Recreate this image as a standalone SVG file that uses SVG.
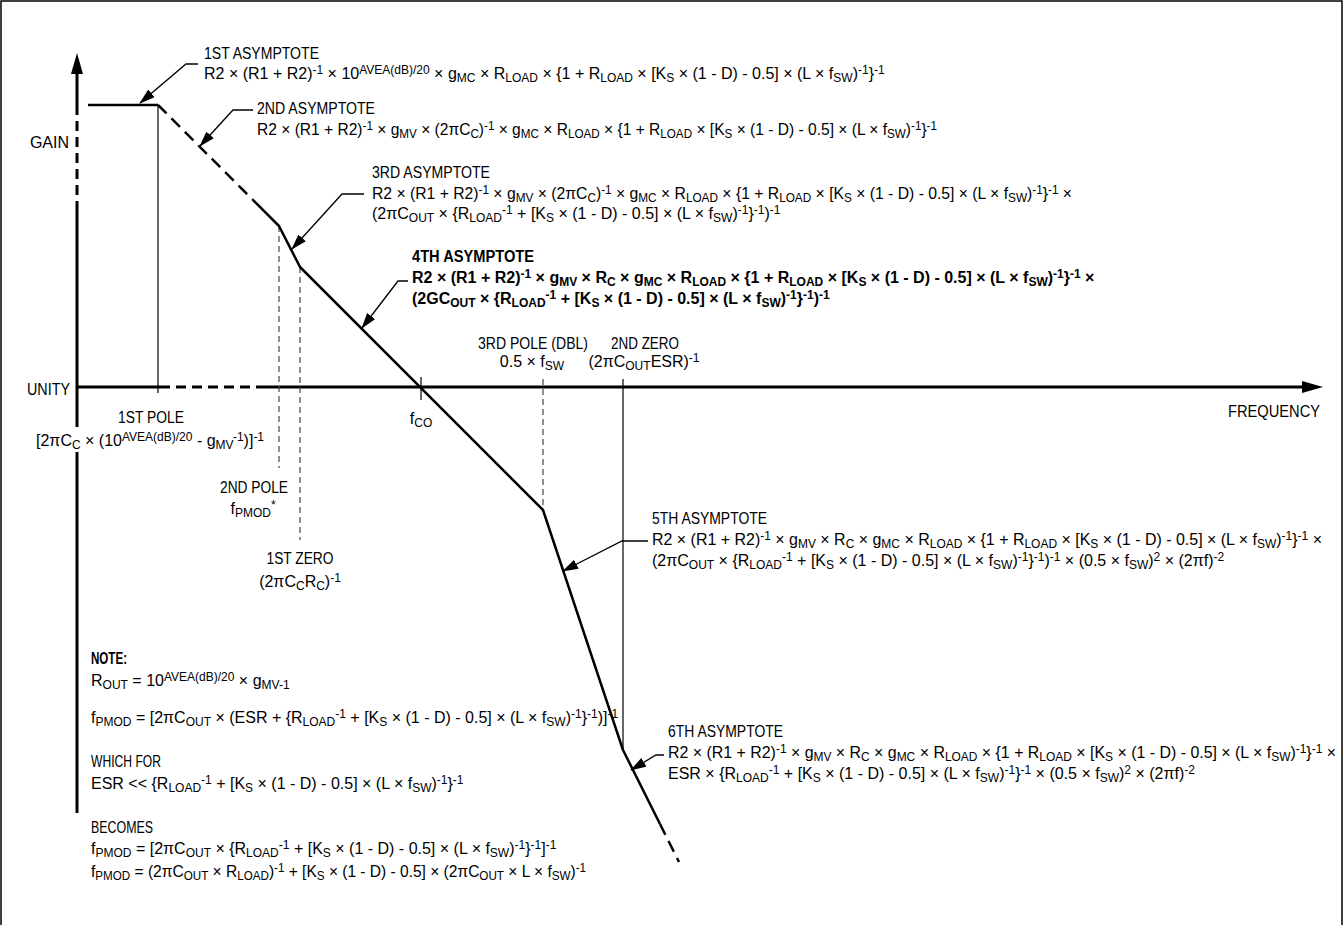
<svg xmlns="http://www.w3.org/2000/svg" width="1344" height="925" viewBox="0 0 1344 925">
<style>
text{font-family:"Liberation Sans Narrow","Liberation Sans",Arial,sans-serif;font-size:16px;fill:#000}
.b{font-weight:bold}
.m{text-anchor:middle}
.e{text-anchor:end}
.s{font-size:12px;baseline-shift:-3px}
.p{font-size:12px;baseline-shift:5px}
.ax{stroke:#000;stroke-width:3;fill:none}
.axd{stroke:#000;stroke-width:3;fill:none;stroke-dasharray:10 6}
.cv{stroke:#000;stroke-width:2.5;fill:none;stroke-linejoin:round}
.cvd{stroke:#000;stroke-width:2.5;fill:none;stroke-dasharray:12 7}
.mk{stroke:#000;stroke-width:1.2;fill:none}
.mkd{stroke:#444;stroke-width:1.2;fill:none;stroke-dasharray:6 4}
.ld{stroke:#000;stroke-width:1.3;fill:none;marker-end:url(#ah)}
</style>
<defs>
<marker id="ah" viewBox="0 0 16 10" refX="15" refY="5" markerWidth="16" markerHeight="10" markerUnits="userSpaceOnUse" orient="auto">
<path d="M0,0 L16,5 L0,10 z" fill="#000"/>
</marker>
</defs>
<rect width="1344" height="925" fill="#fff"/>
<path d="M1,925 V1 H1342 V925" fill="none" stroke="#000" stroke-width="1.5"/>

<g id="axes">
<path class="ax" d="M77,70 V105"/>
<path class="axd" d="M77,105 V210"/>
<path class="ax" d="M77,210 V427 M77,452 V813"/>
<polygon points="77,53 71,74 83,74" fill="#000"/>
<path class="ax" d="M77,387 H160"/>
<path class="axd" d="M160,387 H260"/>
<path class="ax" d="M260,387 H1305"/>
<polygon points="1323,387 1302,381 1302,393" fill="#000"/>
<text x="69" y="148" class="e">GAIN</text>
<text x="70" y="395" class="e" textLength="43" lengthAdjust="spacingAndGlyphs">UNITY</text>
<text x="1320" y="417" class="e" textLength="92" lengthAdjust="spacingAndGlyphs">FREQUENCY</text>
</g>

<g id="markers">
<path class="mk" d="M158,105 V393"/>
<path class="mkd" d="M279,226 V468"/>
<path class="mkd" d="M300,267 V540"/>
<path class="mk" d="M421,377 V400"/>
<path class="mkd" d="M543,379 V510"/>
<path class="mk" d="M623,379 V750"/>
</g>

<g id="curve">
<path class="cv" d="M88,105 H158"/>
<path class="cvd" d="M158,105 L253,200"/>
<path class="cv" d="M253,200 L279,226 L300,267 L543,510 L623,750 L660,824"/>
<path class="cvd" d="M660,824 L679,862"/>
</g>

<g id="connectors">
<path class="ld" d="M198,64 H186 L140,103"/>
<path class="ld" d="M253,110 H233 L200,146"/>
<path class="ld" d="M364,194 H342 L292,249"/>
<path class="ld" d="M408,281 H398 L362,328"/>
<path class="ld" d="M648,541 H622 L563,571"/>
<path class="ld" d="M664,755 H656 L631,770"/>
</g>

<g id="asym1">
<text x="204" y="59" textLength="115" lengthAdjust="spacingAndGlyphs">1ST ASYMPTOTE</text>
<text x="204" y="79">R2 × (R1 + R2)<tspan class="p">-1</tspan> × 10<tspan class="p">AVEA(dB)/20</tspan> × g<tspan class="s">MC</tspan> × R<tspan class="s">LOAD</tspan> × {1 + R<tspan class="s">LOAD</tspan> × [K<tspan class="s">S</tspan> × (1 - D) - 0.5] × (L × f<tspan class="s">SW</tspan>)<tspan class="p">-1</tspan>}<tspan class="p">-1</tspan></text>
</g>

<g id="asym2">
<text x="257" y="114" textLength="118" lengthAdjust="spacingAndGlyphs">2ND ASYMPTOTE</text>
<text x="257" y="135" textLength="680" lengthAdjust="spacingAndGlyphs">R2 × (R1 + R2)<tspan class="p">-1</tspan> × g<tspan class="s">MV</tspan> × (2πC<tspan class="s">C</tspan>)<tspan class="p">-1</tspan> × g<tspan class="s">MC</tspan> × R<tspan class="s">LOAD</tspan> × {1 + R<tspan class="s">LOAD</tspan> × [K<tspan class="s">S</tspan> × (1 - D) - 0.5] × (L × f<tspan class="s">SW</tspan>)<tspan class="p">-1</tspan>}<tspan class="p">-1</tspan></text>
</g>

<g id="asym3">
<text x="372" y="178" textLength="118" lengthAdjust="spacingAndGlyphs">3RD ASYMPTOTE</text>
<text x="372" y="199" textLength="700" lengthAdjust="spacingAndGlyphs">R2 × (R1 + R2)<tspan class="p">-1</tspan> × g<tspan class="s">MV</tspan> × (2πC<tspan class="s">C</tspan>)<tspan class="p">-1</tspan> × g<tspan class="s">MC</tspan> × R<tspan class="s">LOAD</tspan> × {1 + R<tspan class="s">LOAD</tspan> × [K<tspan class="s">S</tspan> × (1 - D) - 0.5] × (L × f<tspan class="s">SW</tspan>)<tspan class="p">-1</tspan>}<tspan class="p">-1</tspan> ×</text>
<text x="372" y="219">(2πC<tspan class="s">OUT</tspan> × {R<tspan class="s">LOAD</tspan><tspan class="p">-1</tspan> + [K<tspan class="s">S</tspan> × (1 - D) - 0.5] × (L × f<tspan class="s">SW</tspan>)<tspan class="p">-1</tspan>}<tspan class="p">-1</tspan>)<tspan class="p">-1</tspan></text>
</g>

<g id="asym4">
<text x="412" y="262" class="b" textLength="122" lengthAdjust="spacingAndGlyphs">4TH ASYMPTOTE</text>
<text x="412" y="283" class="b">R2 × (R1 + R2)<tspan class="p">-1</tspan> × g<tspan class="s">MV</tspan> × R<tspan class="s">C</tspan> × g<tspan class="s">MC</tspan> × R<tspan class="s">LOAD</tspan> × {1 + R<tspan class="s">LOAD</tspan> × [K<tspan class="s">S</tspan> × (1 - D) - 0.5] × (L × f<tspan class="s">SW</tspan>)<tspan class="p">-1</tspan>}<tspan class="p">-1</tspan> ×</text>
<text x="412" y="304" class="b">(2GC<tspan class="s">OUT</tspan> × {R<tspan class="s">LOAD</tspan><tspan class="p">-1</tspan> + [K<tspan class="s">S</tspan> × (1 - D) - 0.5] × (L × f<tspan class="s">SW</tspan>)<tspan class="p">-1</tspan>}<tspan class="p">-1</tspan>)<tspan class="p">-1</tspan></text>
</g>

<g id="pole3">
<text x="533" y="349" class="m" textLength="110" lengthAdjust="spacingAndGlyphs">3RD POLE (DBL)</text>
<text x="532" y="367" class="m">0.5 × f<tspan class="s">SW</tspan></text>
</g>

<g id="zero2">
<text x="645" y="349" class="m" textLength="68" lengthAdjust="spacingAndGlyphs">2ND ZERO</text>
<text x="644" y="367" class="m">(2πC<tspan class="s">OUT</tspan>ESR)<tspan class="p">-1</tspan></text>
</g>

<g id="pole1">
<text x="151" y="423" class="m" textLength="66" lengthAdjust="spacingAndGlyphs">1ST POLE</text>
<text x="36" y="446">[2πC<tspan class="s">C</tspan> × (10<tspan class="p">AVEA(dB)/20</tspan> - g<tspan class="s">MV</tspan><tspan class="p">-1</tspan>)]<tspan class="p">-1</tspan></text>
</g>

<g id="fco">
<text x="421" y="424" class="m">f<tspan class="s">CO</tspan></text>
</g>

<g id="pole2">
<text x="254" y="493" class="m" textLength="68" lengthAdjust="spacingAndGlyphs">2ND POLE</text>
<text x="253" y="514" class="m">f<tspan class="s">PMOD</tspan><tspan class="p">*</tspan></text>
</g>

<g id="zero1">
<text x="300" y="564" class="m" textLength="67" lengthAdjust="spacingAndGlyphs">1ST ZERO</text>
<text x="300" y="587" class="m">(2πC<tspan class="s">C</tspan>R<tspan class="s">C</tspan>)<tspan class="p">-1</tspan></text>
</g>

<g id="asym5">
<text x="652" y="524" textLength="115" lengthAdjust="spacingAndGlyphs">5TH ASYMPTOTE</text>
<text x="652" y="545" textLength="670" lengthAdjust="spacingAndGlyphs">R2 × (R1 + R2)<tspan class="p">-1</tspan> × g<tspan class="s">MV</tspan> × R<tspan class="s">C</tspan> × g<tspan class="s">MC</tspan> × R<tspan class="s">LOAD</tspan> × {1 + R<tspan class="s">LOAD</tspan> × [K<tspan class="s">S</tspan> × (1 - D) - 0.5] × (L × f<tspan class="s">SW</tspan>)<tspan class="p">-1</tspan>}<tspan class="p">-1</tspan> ×</text>
<text x="652" y="566">(2πC<tspan class="s">OUT</tspan> × {R<tspan class="s">LOAD</tspan><tspan class="p">-1</tspan> + [K<tspan class="s">S</tspan> × (1 - D) - 0.5] × (L × f<tspan class="s">SW</tspan>)<tspan class="p">-1</tspan>}<tspan class="p">-1</tspan>)<tspan class="p">-1</tspan> × (0.5 × f<tspan class="s">SW</tspan>)<tspan class="p">2</tspan> × (2πf)<tspan class="p">-2</tspan></text>
</g>

<g id="asym6">
<text x="668" y="737" textLength="115" lengthAdjust="spacingAndGlyphs">6TH ASYMPTOTE</text>
<text x="668" y="758" textLength="668" lengthAdjust="spacingAndGlyphs">R2 × (R1 + R2)<tspan class="p">-1</tspan> × g<tspan class="s">MV</tspan> × R<tspan class="s">C</tspan> × g<tspan class="s">MC</tspan> × R<tspan class="s">LOAD</tspan> × {1 + R<tspan class="s">LOAD</tspan> × [K<tspan class="s">S</tspan> × (1 - D) - 0.5] × (L × f<tspan class="s">SW</tspan>)<tspan class="p">-1</tspan>}<tspan class="p">-1</tspan> ×</text>
<text x="668" y="779">ESR × {R<tspan class="s">LOAD</tspan><tspan class="p">-1</tspan> + [K<tspan class="s">S</tspan> × (1 - D) - 0.5] × (L × f<tspan class="s">SW</tspan>)<tspan class="p">-1</tspan>}<tspan class="p">-1</tspan> × (0.5 × f<tspan class="s">SW</tspan>)<tspan class="p">2</tspan> × (2πf)<tspan class="p">-2</tspan></text>
</g>

<g id="note">
<text x="91" y="664" class="b" textLength="36" lengthAdjust="spacingAndGlyphs">NOTE:</text>
<text x="91" y="686">R<tspan class="s">OUT</tspan> = 10<tspan class="p">AVEA(dB)/20</tspan> × g<tspan class="s">MV</tspan><tspan class="s">-1</tspan></text>
<text x="91" y="723">f<tspan class="s">PMOD</tspan> = [2πC<tspan class="s">OUT</tspan> × (ESR + {R<tspan class="s">LOAD</tspan><tspan class="p">-1</tspan> + [K<tspan class="s">S</tspan> × (1 - D) - 0.5] × (L × f<tspan class="s">SW</tspan>)<tspan class="p">-1</tspan>}<tspan class="p">-1</tspan>)]<tspan class="p">-1</tspan></text>
<text x="91" y="767" textLength="70" lengthAdjust="spacingAndGlyphs">WHICH FOR</text>
<text x="91" y="789">ESR &lt;&lt; {R<tspan class="s">LOAD</tspan><tspan class="p">-1</tspan> + [K<tspan class="s">S</tspan> × (1 - D) - 0.5] × (L × f<tspan class="s">SW</tspan>)<tspan class="p">-1</tspan>}<tspan class="p">-1</tspan></text>
<text x="91" y="833" textLength="62" lengthAdjust="spacingAndGlyphs">BECOMES</text>
<text x="91" y="854">f<tspan class="s">PMOD</tspan> = [2πC<tspan class="s">OUT</tspan> × {R<tspan class="s">LOAD</tspan><tspan class="p">-1</tspan> + [K<tspan class="s">S</tspan> × (1 - D) - 0.5] × (L × f<tspan class="s">SW</tspan>)<tspan class="p">-1</tspan>}<tspan class="p">-1</tspan>]<tspan class="p">-1</tspan></text>
<text x="91" y="877" textLength="495" lengthAdjust="spacingAndGlyphs">f<tspan class="s">PMOD</tspan> = (2πC<tspan class="s">OUT</tspan> × R<tspan class="s">LOAD</tspan>)<tspan class="p">-1</tspan> + [K<tspan class="s">S</tspan> × (1 - D) - 0.5] × (2πC<tspan class="s">OUT</tspan> × L × f<tspan class="s">SW</tspan>)<tspan class="p">-1</tspan></text>
</g>
</svg>
